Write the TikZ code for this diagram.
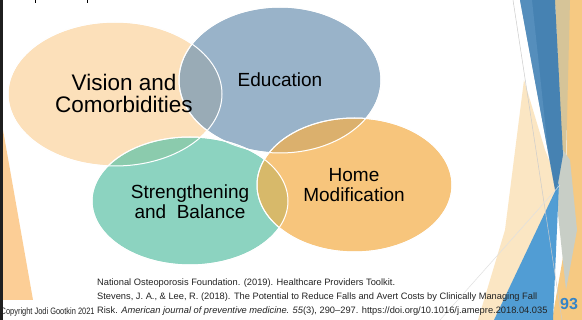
\documentclass[tikz,border=0pt]{standalone}
\usepackage{fontspec}
\setmainfont{Liberation Sans}
\definecolor{peach}{RGB}{251,213,160}
\definecolor{edublue}{RGB}{115,151,181}
\definecolor{tealc}{RGB}{96,195,169}
\definecolor{orangec}{RGB}{245,176,74}
\definecolor{darkblue}{RGB}{70,130,178}
\definecolor{lightblue}{RGB}{95,150,195}
\definecolor{brightblue}{RGB}{72,152,210}
\definecolor{tanc}{RGB}{214,196,152}
\definecolor{orangeband}{RGB}{246,201,130}
\definecolor{creamc}{RGB}{251,230,195}
\definecolor{greyband}{RGB}{200,206,198}
\definecolor{leftorange}{RGB}{252,206,150}
\definecolor{pagenum}{RGB}{52,132,200}
\definecolor{reftext}{RGB}{35,35,35}
\tikzset{
  bubble/.style={draw=white, line width=1pt, fill opacity=0.72},
  bubbletext/.style={align=center, font=\fontsize{19}{20}\selectfont, text=black},
  reftxt/.style={anchor=west, inner sep=0pt, font=\fontsize{9.3}{10}\selectfont, text=reftext},
}
\begin{document}
\begin{tikzpicture}[x=1pt,y=-1pt]
\useasboundingbox (0,0) rectangle (582,320);
\fill[white] (0,0) rectangle (582,320);
% left decorations
\fill[leftorange] (3,130) -- (3,300) -- (33,300) -- cycle;
\fill[black!88] (0,0) rectangle (3,320);
\fill[black] (34.5,0) rectangle (35.5,3);
\fill[black] (86.5,0) rectangle (87.5,3);
% right decorations
\fill[creamc] (524,80) -- (545,150) -- (559,185) -- (494,320) -- (478,320) -- (505,230) -- cycle;
\fill[orangeband] (568,0) -- (582,0) -- (582,320) -- (552,320) -- (566,240) -- cycle;
\fill[tanc] (555,0) -- (570,0) -- (566,160) -- (562,160) -- cycle;
\fill[greyband] (563,150) -- (570,160) -- (577,230) -- (566,290) -- (556,195) -- cycle;
\fill[darkblue] (520,0) -- (555,0) -- (563,155) -- (556,195) -- cycle;
\fill[lightblue, fill opacity=0.6] (520,0) -- (532,0) -- (548,150) -- (556,195) -- cycle;
\fill[brightblue, fill opacity=0.95] (559,183) -- (494,320) -- (553,320) -- cycle;
\draw[black!20, line width=0.5pt] (513,0) -- (562,320);
\draw[black!12, line width=0.5pt] (440,320) -- (560,185);
% bubbles
\fill[bubble, fill=peach] (115,94) ellipse [x radius=107, y radius=72];
\fill[bubble, fill=edublue] (280,80) ellipse [x radius=101, y radius=73];
\fill[bubble, fill=tealc] (190,201) ellipse [x radius=98, y radius=64];
\fill[bubble, fill=orangec] (354.5,185) ellipse [x radius=97.5, y radius=67];
\draw[white, line width=1pt] (115,94) ellipse [x radius=107, y radius=72];
\draw[white, line width=1pt] (280,80) ellipse [x radius=101, y radius=73];
\draw[white, line width=1pt] (190,201) ellipse [x radius=98, y radius=64];
\draw[white, line width=1pt] (354.5,185) ellipse [x radius=97.5, y radius=67];
% labels
\node[bubbletext, font=\fontsize{22.5}{22}\selectfont] (vision) at (124,93) {Vision and\\Comorbidities};
\node[bubbletext] (edu) at (280,80) {Education};
\node[bubbletext] (strength) at (190,202) {Strengthening\\and\ \ Balance};
\node[bubbletext] (home) at (354,185) {Home\\Modification};
% references
\node[reftxt] (ref1) at (97,283) {National Osteoporosis Foundation. (2019). Healthcare Providers Toolkit.};
\node[reftxt] (ref2) at (97,297) {Stevens, J. A., \& Lee, R. (2018). The Potential to Reduce Falls and Avert Costs by Clinically Managing Fall};
\node[reftxt] (ref3) at (97,311) {Risk. \textit{American journal of preventive medicine. 55}(3), 290–297. https://doi.org/10.1016/j.amepre.2018.04.035};
\node[reftxt] (copy) at (0.5,312) {\scalebox{0.8}[1]{Copyright Jodi Gootkin 2021}};
\node[font=\fontsize{16}{16}\bfseries, text=pagenum, inner sep=0pt] (num) at (569,304) {93};
\end{tikzpicture}
\end{document}
